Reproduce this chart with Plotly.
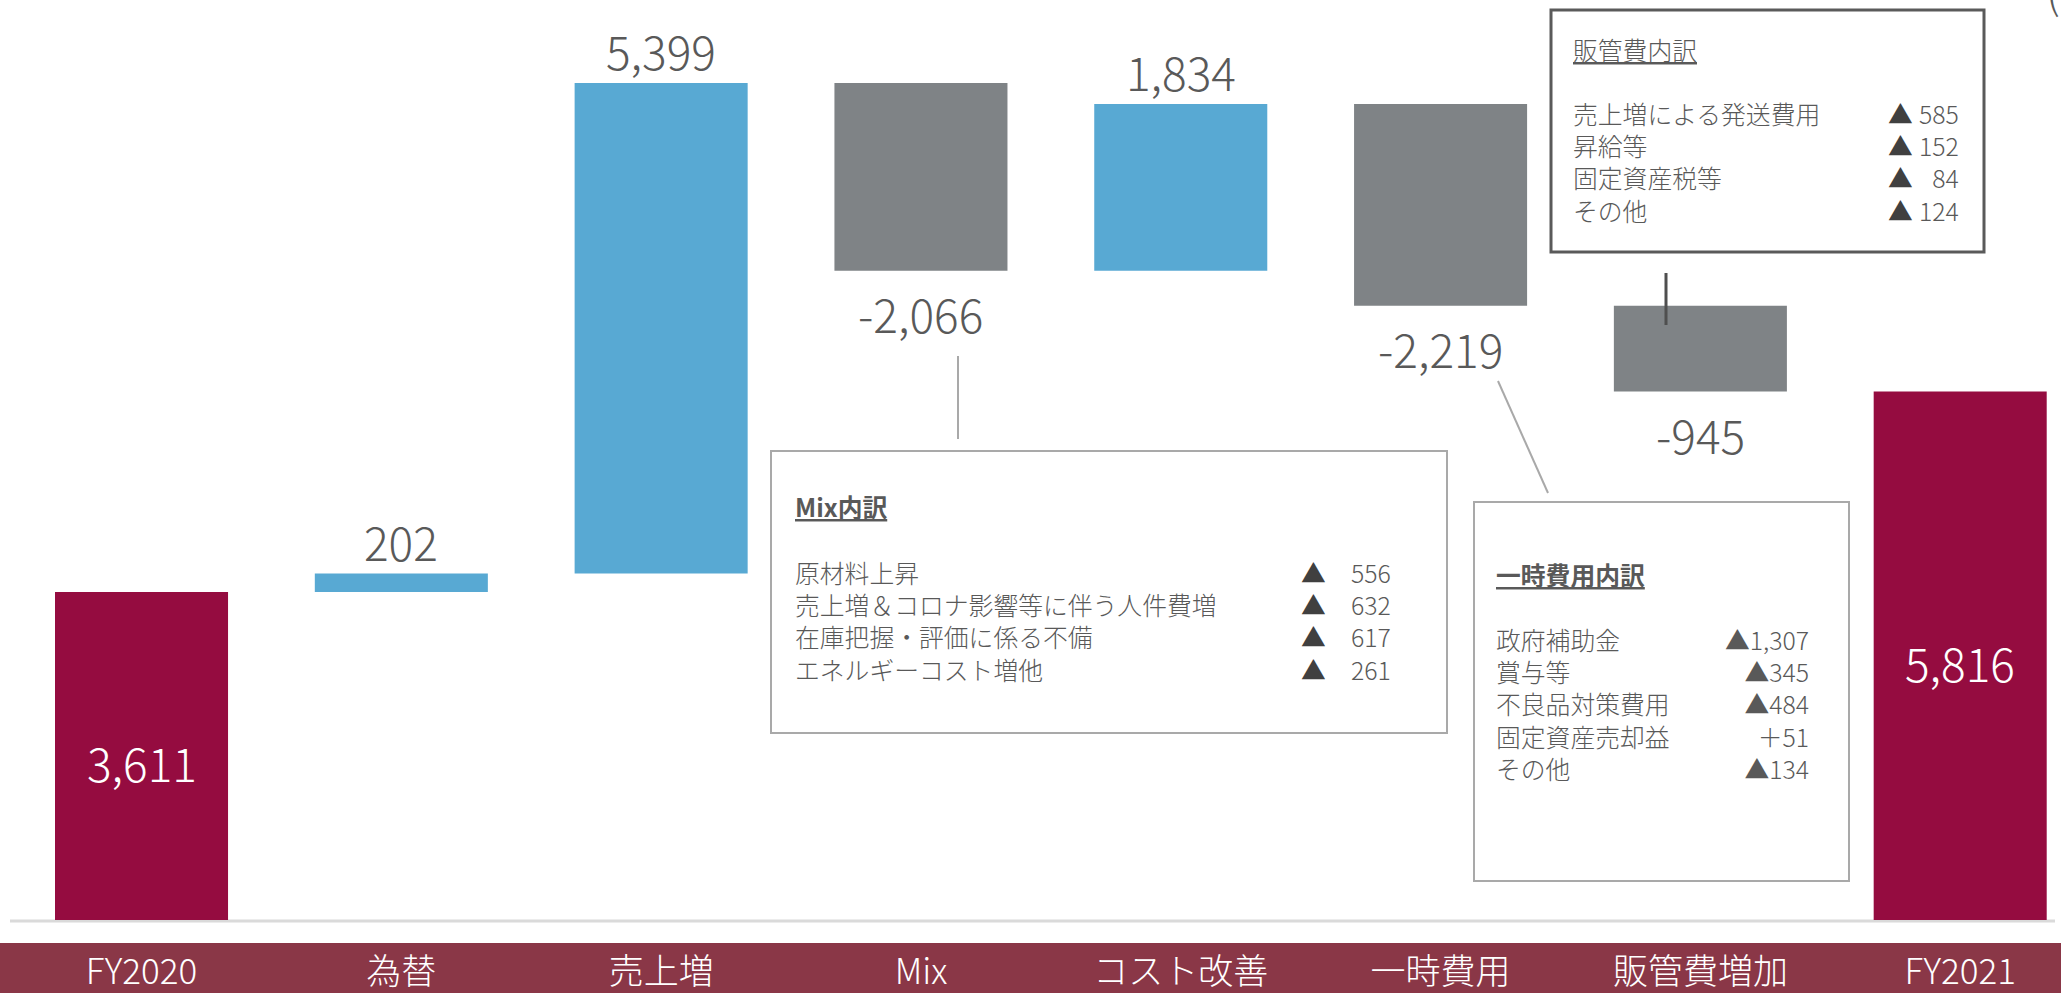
import plotly.graph_objects as go

# ---------------- data ----------------
categories = ["FY2020", "為替", "売上増", "Mix", "コスト改善", "一時費用", "販管費増加", "FY2021"]
measures = ["absolute", "relative", "relative", "relative", "relative", "relative", "relative", "total"]
values = [3611, 202, 5399, -2066, 1834, -2219, -945, 0]

mix_items = ["原材料上昇", "売上増＆コロナ影響等に伴う人件費増", "在庫把握・評価に係る不備", "エネルギーコスト増他"]
mix_values = ["556", "632", "617", "261"]

temp_items = ["政府補助金", "賞与等", "不良品対策費用", "固定資産売却益", "その他"]
temp_values = ["▲1,307", "▲345", "▲484", "＋51", "▲134"]

sga_items = ["売上増による発送費用", "昇給等", "固定資産税等", "その他"]
sga_values = ["585", "152", "84", "124"]

W, H = 2061, 993
PB = 920  # plot bottom pixel

FONT = "Noto Sans CJK JP Light, Noto Sans CJK JP"
BOLD_FONT = "Noto Sans CJK JP"
GRAY_TXT = "#595959"


def X(px):
    return px / W


def Y(py):
    return 1 - py / PB


fig = go.Figure()
fig.add_trace(go.Waterfall(
    x=categories,
    y=values,
    measure=measures,
    textinfo="none",
    width=0.666,
    cliponaxis=False,
    connector=dict(visible=False),
    increasing=dict(marker=dict(color="#58A9D3")),
    decreasing=dict(marker=dict(color="#7F8386")),
    totals=dict(marker=dict(color="#950C40")),
    hoverinfo="skip",
))

annotations = []
LABEL_FS = 46

# value labels, anchored at bar positions computed from the data
running = 0
for cat, v, m in zip(categories, values, measures):
    if m in ("absolute", "total"):
        total = v if m == "absolute" else running
        running = total
        annotations.append(dict(x=cat, y=total / 2, xref="x", yref="y", text=f"{total:,}",
                                showarrow=False, xanchor="center", yanchor="middle", yshift=-6,
                                font=dict(family=FONT, size=LABEL_FS, color="white", weight=300)))
        continue
    end = running + v
    if v >= 0:
        annotations.append(dict(x=cat, y=end, xref="x", yref="y", text=f"{v:,}", showarrow=False,
                                xanchor="center", yanchor="bottom", yshift=-2,
                                font=dict(family=FONT, size=LABEL_FS, color=GRAY_TXT, weight=300)))
    else:
        annotations.append(dict(x=cat, y=end, xref="x", yref="y", text=f"{v:,}", showarrow=False,
                                xanchor="center", yanchor="top", yshift=-7,
                                font=dict(family=FONT, size=LABEL_FS, color=GRAY_TXT, weight=300)))
    running = end

shapes = []
# category band
shapes.append(dict(type="rect", xref="paper", yref="paper",
                   x0=0, x1=1, y0=Y(943), y1=Y(H + 2),
                   fillcolor="#8A3747", line=dict(width=0), layer="below"))
# baseline
shapes.append(dict(type="line", xref="paper", yref="paper",
                   x0=X(10), x1=X(2055), y0=Y(921), y1=Y(921),
                   line=dict(color="#DADADA", width=3), layer="below"))


def box(x0, y0, x1, y1, color, width):
    shapes.append(dict(type="rect", xref="paper", yref="paper",
                       x0=X(x0), x1=X(x1), y0=Y(y0), y1=Y(y1),
                       line=dict(color=color, width=width), fillcolor="rgba(0,0,0,0)",
                       layer="above"))


def seg(x0, y0, x1, y1, color, width):
    shapes.append(dict(type="line", xref="paper", yref="paper",
                       x0=X(x0), x1=X(x1), y0=Y(y0), y1=Y(y1),
                       line=dict(color=color, width=width), layer="above"))


box(771, 451, 1447, 733, "#A9A9A9", 2)
box(1474, 502, 1849, 881, "#A9A9A9", 2)
box(1551, 10, 1984, 252, "#5A5A5A", 3)

seg(958, 356, 958, 439, "#A9A9A9", 2)
seg(1498, 381, 1548, 493, "#A9A9A9", 2)
seg(1666, 273, 1666, 325, "#4F4F4F", 3)

BOX_FS = 24.8
ROW_OFF = 22  # distance from annotation top to first line centre


def rows(px, first_center, lines, xanchor="left", align="left", color=GRAY_TXT):
    annotations.append(dict(xref="paper", yref="paper", x=X(px), y=Y(first_center - ROW_OFF),
                            xanchor=xanchor, yanchor="top", align=align,
                            text="<br>".join(lines), showarrow=False,
                            font=dict(family=FONT, size=BOX_FS, color=color, weight=300)))


def title(px, center, text, bold=True):
    if bold:
        txt = f"<b><u>{text}</u></b>"
        fnt = dict(family=BOLD_FONT, size=BOX_FS, color=GRAY_TXT)
    else:
        txt = f"<u>{text}</u>"
        fnt = dict(family=FONT, size=BOX_FS, color=GRAY_TXT, weight=300)
    annotations.append(dict(xref="paper", yref="paper", x=X(px), y=Y(center),
                            xanchor="left", yanchor="middle", text=txt, showarrow=False,
                            font=fnt))


# Mix box
title(793, 506, "Mix内訳")
rows(793, 574, mix_items)
rows(1299, 574, ["▲" for _ in mix_items], color="#404040")
rows(1393, 574, mix_values, xanchor="right", align="right")

# 一時費用 box
title(1494, 574, "一時費用内訳")
rows(1494, 641, temp_items)
rows(1811, 641, temp_values, xanchor="right", align="right")

# 販管費 box
title(1571, 49, "販管費内訳", bold=False)
rows(1571, 115, sga_items)
rows(1886, 115, ["▲" for _ in sga_items], color="#404040")
rows(1961, 115, sga_values, xanchor="right", align="right")

# cut-off bracket at top right
annotations.append(dict(xref="paper", yref="paper", x=X(2044), y=Y(24),
                        xanchor="left", yanchor="bottom", text="(", showarrow=False,
                        font=dict(family=FONT, size=44, color=GRAY_TXT, weight=300)))

fig.update_layout(
    width=W, height=H,
    margin=dict(l=0, r=0, t=0, b=H - PB, pad=0, autoexpand=False),
    paper_bgcolor="white", plot_bgcolor="white",
    showlegend=False,
    shapes=shapes,
    annotations=annotations,
    font=dict(family=FONT, color=GRAY_TXT),
    xaxis=dict(type="category", range=[-0.5447, 7.388], showgrid=False, zeroline=False,
               showline=False, ticks="", ticklabelstandoff=28, automargin=False,
               tickfont=dict(family=FONT, size=35, color="white", weight=300),
               fixedrange=True),
    yaxis=dict(range=[0, 10125], visible=False, fixedrange=True, automargin=False),
)

fig.write_html("out.html", config={"displayModeBar": False},
               post_script="document.body.style.margin='0';document.body.style.overflow='hidden';")
